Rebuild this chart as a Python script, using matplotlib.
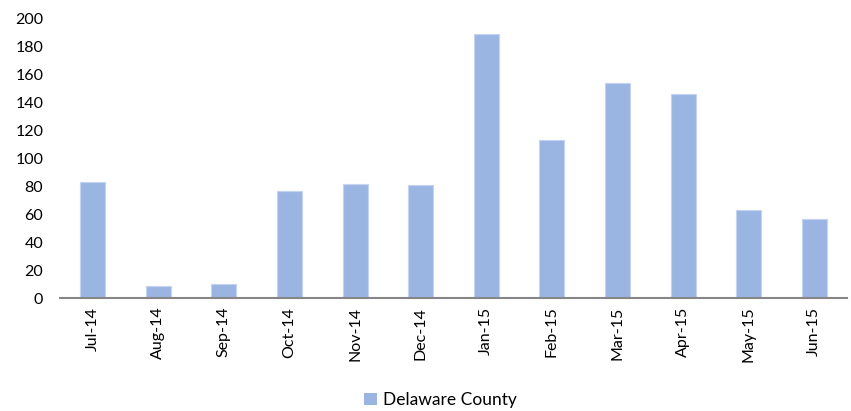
import matplotlib
matplotlib.use("Agg")
import matplotlib.pyplot as plt
from matplotlib.patches import Patch

months = ["Jul-14", "Aug-14", "Sep-14", "Oct-14", "Nov-14", "Dec-14",
          "Jan-15", "Feb-15", "Mar-15", "Apr-15", "May-15", "Jun-15"]
values = [83, 9, 10, 77, 82, 81, 189, 113, 154, 146, 63, 57]
series_name = "Delaware County"
yticks = [0, 20, 40, 60, 80, 100, 120, 140, 160, 180, 200]

plt.rcParams['font.family'] = ['Lato', 'DejaVu Sans']

W, H = 851, 411
fig = plt.figure(figsize=(W / 100, H / 100), dpi=100)
ax = fig.add_axes([60 / W, 1 - 298.3 / H, (847 - 60) / W, (298.3 - 18.3) / H])

bar_color = "#9BB5E3"
x = range(len(months))
ax.bar(x, values, width=0.38, color=bar_color, edgecolor="#C3D3F0", linewidth=0.8, zorder=2)

ax.set_xlim(-0.5, len(months) - 0.5)
ax.set_ylim(0, 200)
ax.set_yticks(yticks)
ax.set_yticklabels([str(v) for v in yticks], fontsize=11.5, color="#000000")
ax.set_xticks(list(x))
ax.set_xticklabels(months, rotation=90, fontsize=11.5, color="#000000")
ax.tick_params(axis="both", length=0, pad=6)
ax.tick_params(axis="y", pad=12)

for s in ["top", "right", "left"]:
    ax.spines[s].set_visible(False)
ax.spines["bottom"].set_color("#868686")
ax.spines["bottom"].set_linewidth(1.5)

handle = Patch(facecolor=bar_color, edgecolor="none")
fig.legend([handle], [series_name], loc="center", bbox_to_anchor=(440 / W, 1 - 400 / H),
           frameon=False, fontsize=12.5, handlelength=0.75, handleheight=0.75, handletextpad=0.35)

fig.savefig("out.png", dpi=100)
